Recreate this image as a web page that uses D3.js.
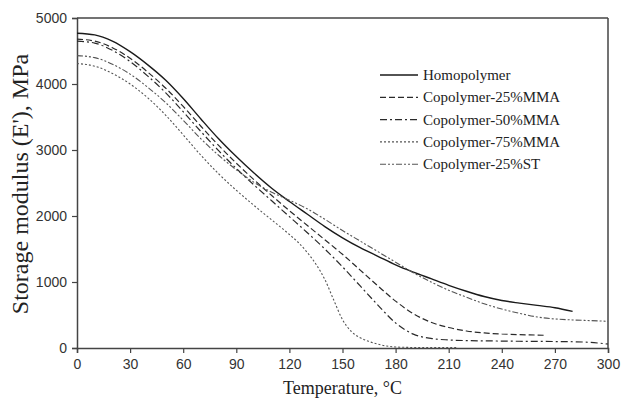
<!DOCTYPE html>
<html>
<head>
<meta charset="utf-8">
<script src="https://cdnjs.cloudflare.com/ajax/libs/d3/7.8.5/d3.min.js"></script>
<style>
  body { margin: 0; background: #fff; }
  .tick text { font-family: "Liberation Sans", Arial, sans-serif; font-size: 14px; fill: #333; }
  .axis-title, .legend text { font-family: "Liberation Serif", "Times New Roman", serif; fill: #222; }
</style>
</head>
<body>
<script>
// Series names and tick values
var seriesNames = ["Homopolymer", "Copolymer-25%MMA", "Copolymer-50%MMA", "Copolymer-75%MMA", "Copolymer-25%ST"];
var xTicks = [0, 30, 60, 90, 120, 150, 180, 210, 240, 270, 300];
var yTicks = [0, 1000, 2000, 3000, 4000, 5000];

// Temperature (C) and storage modulus (MPa)
var homoTemp = [0, 10, 20, 30, 40, 50, 60, 70, 80, 90, 100, 110, 120, 130, 140, 150, 160, 170, 180, 190, 200, 210, 220, 230, 240, 250, 260, 270, 280];
var homoModulus = [4770, 4745, 4650, 4490, 4290, 4060, 3780, 3470, 3170, 2900, 2650, 2420, 2220, 2030, 1840, 1670, 1520, 1390, 1260, 1150, 1050, 950, 860, 780, 720, 680, 645, 610, 555];

var mma25Temp = [0, 10, 20, 30, 40, 50, 60, 70, 80, 90, 100, 110, 120, 130, 140, 150, 160, 170, 180, 190, 200, 210, 220, 230, 240, 250, 260, 265];
var mma25Modulus = [4680, 4650, 4550, 4390, 4180, 3940, 3660, 3360, 3070, 2800, 2550, 2310, 2080, 1860, 1640, 1420, 1180, 940, 710, 520, 390, 310, 258, 228, 212, 202, 196, 192];

var mma50Temp = [0, 10, 20, 30, 40, 50, 60, 70, 80, 90, 100, 110, 120, 130, 140, 150, 160, 170, 180, 190, 200, 210, 220, 230, 240, 250, 260, 270, 280, 290, 300];
var mma50Modulus = [4650, 4620, 4510, 4340, 4120, 3870, 3580, 3280, 2990, 2720, 2470, 2230, 1990, 1750, 1500, 1230, 940, 650, 380, 210, 145, 122, 112, 108, 105, 102, 100, 98, 95, 85, 60];

var mma75Temp = [0, 10, 20, 30, 40, 50, 60, 70, 80, 90, 100, 110, 120, 125, 130, 135, 140, 145, 150, 155, 160, 165, 170, 175, 180, 190, 200, 215];
var mma75Modulus = [4310, 4270, 4160, 4000, 3790, 3530, 3230, 2920, 2640, 2390, 2160, 1940, 1720, 1600, 1450, 1270, 1040, 730, 430, 250, 155, 98, 58, 30, 15, 8, 6, 5];

var st25Temp = [0, 10, 20, 30, 40, 50, 60, 70, 80, 90, 100, 110, 120, 130, 140, 150, 160, 170, 180, 190, 200, 210, 220, 230, 240, 250, 260, 270, 280, 290, 300];
var st25Modulus = [4430, 4400, 4300, 4150, 3950, 3720, 3450, 3170, 2920, 2700, 2510, 2360, 2240, 2110, 1950, 1780, 1620, 1460, 1300, 1140, 1000, 875, 770, 670, 590, 525, 470, 440, 425, 415, 405];

// Line styles per series
var lineStyles = [
  { stroke: "#1a1a1a", width: 1.4, dash: null },
  { stroke: "#2a2a2a", width: 1.2, dash: "6,3" },
  { stroke: "#2a2a2a", width: 1.2, dash: "7,3,2,3" },
  { stroke: "#555", width: 1.1, dash: "2,2" },
  { stroke: "#555", width: 1.1, dash: "6,2,2,2,2,2" }
];

var svgWidth = 622;
var svgHeight = 400;

var chartMargin = {
  top: 18,
  right: 14,
  bottom: 52,
  left: 77
};

var chartWidth = svgWidth - chartMargin.left - chartMargin.right;
var chartHeight = svgHeight - chartMargin.top - chartMargin.bottom;

var svg = d3.select("body")
  .append("svg")
  .attr("height", svgHeight)
  .attr("width", svgWidth);

var chartGroup = svg.append("g")
  .attr("transform", `translate(${chartMargin.left}, ${chartMargin.top})`);

var xScale = d3.scaleLinear()
  .domain([0, 300])
  .range([0, chartWidth]);

var yScale = d3.scaleLinear()
  .domain([0, 5000])
  .range([chartHeight, 0]);

// frame: top and right borders
chartGroup.append("line")
  .attr("x1", 0).attr("x2", chartWidth)
  .attr("y1", 0).attr("y2", 0)
  .attr("stroke", "#444").attr("stroke-width", 1.5);
chartGroup.append("line")
  .attr("x1", chartWidth).attr("x2", chartWidth)
  .attr("y1", 0).attr("y2", chartHeight)
  .attr("stroke", "#444").attr("stroke-width", 1.5);

var xAxis = d3.axisBottom(xScale).tickValues(xTicks).tickSize(5).tickPadding(6).tickFormat(d3.format("d"));
var yAxis = d3.axisLeft(yScale).tickValues(yTicks).tickSize(5).tickPadding(5).tickFormat(d3.format("d"));

var xAxisGroup = chartGroup.append("g")
  .attr("transform", `translate(0, ${chartHeight})`)
  .call(xAxis);

var yAxisGroup = chartGroup.append("g")
  .call(yAxis);

[xAxisGroup, yAxisGroup].forEach(function(g) {
  g.select(".domain").attr("stroke", "#444").attr("stroke-width", 1.5);
  g.selectAll(".tick line").attr("stroke", "#444").attr("stroke-width", 1.2);
});

// build series from the arrays
var series = [
  d3.zip(homoTemp, homoModulus),
  d3.zip(mma25Temp, mma25Modulus),
  d3.zip(mma50Temp, mma50Modulus),
  d3.zip(mma75Temp, mma75Modulus),
  d3.zip(st25Temp, st25Modulus)
];

var line = d3.line()
  .x(d => xScale(d[0]))
  .y(d => yScale(d[1]))
  .curve(d3.curveMonotoneX);

chartGroup.selectAll(".curve")
  .data(series)
  .enter()
  .append("path")
  .classed("curve", true)
  .attr("fill", "none")
  .attr("d", line)
  .attr("stroke", (d, i) => lineStyles[i].stroke)
  .attr("stroke-width", (d, i) => lineStyles[i].width)
  .attr("stroke-dasharray", (d, i) => lineStyles[i].dash);

// axis titles
svg.append("text")
  .classed("axis-title", true)
  .attr("x", chartMargin.left + chartWidth / 2)
  .attr("y", 394)
  .attr("text-anchor", "middle")
  .attr("font-size", "18px")
  .text("Temperature, °C");

svg.append("text")
  .classed("axis-title", true)
  .attr("transform", "translate(28, 184) rotate(-90)")
  .attr("text-anchor", "middle")
  .attr("font-size", "24px")
  .text("Storage modulus (E'), MPa");

// legend
var legend = svg.append("g")
  .classed("legend", true)
  .attr("transform", "translate(380, 75)");

var legendRows = legend.selectAll(".row")
  .data(seriesNames)
  .enter()
  .append("g")
  .attr("transform", (d, i) => `translate(0, ${i * 22.3})`);

legendRows.append("line")
  .attr("x1", 0).attr("x2", 38)
  .attr("y1", 0).attr("y2", 0)
  .attr("stroke", (d, i) => lineStyles[i].stroke)
  .attr("stroke-width", (d, i) => lineStyles[i].width)
  .attr("stroke-dasharray", (d, i) => lineStyles[i].dash);

legendRows.append("text")
  .attr("x", 43)
  .attr("y", 5)
  .attr("font-size", "15px")
  .text(d => d);
</script>
</body>
</html>
